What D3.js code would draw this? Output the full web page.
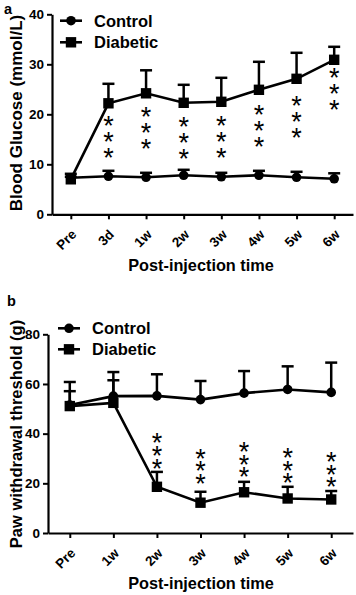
<!DOCTYPE html>
<html>
<head>
<meta charset="utf-8">
<script src="https://cdn.jsdelivr.net/npm/d3@7/dist/d3.min.js"></script>
<style>
  html, body { margin: 0; padding: 0; background: #fff; }
  svg { display: block; }
  text { font-family: "Liberation Sans", Arial, sans-serif; fill: #000; }
  text.stars { writing-mode: vertical-rl; text-orientation: upright; }
</style>
</head>
<body>
<svg id="chart" width="356" height="595"></svg>
<script>
// ---------- Panel a data: Blood glucose (mmol/L) ----------
const catsA = ["Pre", "3d", "1w", "2w", "3w", "4w", "5w", "6w"];
const controlA = [7.3, 7.6, 7.4, 7.8, 7.5, 7.8, 7.4, 7.1];
const controlErrA = [0.8, 1.1, 0.9, 1.1, 0.8, 0.9, 1.1, 1.1];
const diabeticA = [7.0, 22.2, 24.2, 22.3, 22.5, 24.9, 27.1, 30.9];
const diabeticErrA = [0.5, 3.9, 4.6, 3.6, 4.8, 5.6, 5.2, 2.6];
const starCatsA = ["3d", "1w", "2w", "3w", "4w", "5w", "6w"];
const starTopA = [18.7, 20.5, 18.5, 18.7, 20.9, 22.7, 28.3];
const yTicksA = [0, 10, 20, 30, 40];

// ---------- Panel b data: Paw withdrawal threshold (g) ----------
const catsB = ["Pre", "1w", "2w", "3w", "4w", "5w", "6w"];
const controlB = [51.5, 55.1, 55.2, 53.7, 56.3, 57.8, 56.6];
const controlErrB = [9.3, 9.7, 8.7, 7.5, 8.9, 9.3, 12.0];
const diabeticB = [51.1, 52.4, 18.6, 12.2, 16.4, 13.9, 13.5];
const diabeticErrB = [6.0, 9.1, 6.0, 4.4, 4.2, 4.7, 3.4];
const starCatsB = ["2w", "3w", "4w", "5w", "6w"];
const starTopB = [38.1, 32.0, 34.7, 32.3, 30.7];
const yTicksB = [0, 20, 40, 60, 80];

const seriesNames = ["Control", "Diabetic"];
const starLabel = "***";

const svg = d3.select("#chart");

// ink metrics of the asterisk glyph (horizontal), used to centre the stacked stars
function starMetrics(size) {
  const ctx = document.createElement("canvas").getContext("2d");
  ctx.font = `${size}px "Liberation Sans", Arial, sans-serif`;
  const m = ctx.measureText("*");
  const inkMid = (m.actualBoundingBoxAscent - m.actualBoundingBoxDescent) / 2;
  const asc = m.fontBoundingBoxAscent || size * 0.905;
  return { fromTop: asc - inkMid };
}

function drawPanel(cfg) {
  const g = svg.append("g");
  const x = d3.scalePoint().domain(cfg.cats).range(cfg.xRange).padding(0.5);
  const y = d3.scaleLinear().domain(cfg.yDomain).range(cfg.yRange);

  // panel letter
  g.append("text").attr("x", cfg.letterPos[0]).attr("y", cfg.letterPos[1])
    .attr("font-size", 14.5).attr("font-weight", "bold").text(cfg.letter);

  // y axis
  const ya = g.append("g").attr("transform", `translate(${cfg.xRange[0]},0)`)
    .call(d3.axisLeft(y).tickValues(cfg.yTicks).tickSize(5).tickSizeOuter(0).tickPadding(3));
  ya.select(".domain").attr("stroke-width", 2.2).attr("stroke", "#000");
  ya.selectAll(".tick line").attr("stroke-width", 2).attr("stroke", "#000");
  ya.selectAll(".tick text").attr("font-size", 13.5).attr("font-weight", "bold")
    .attr("font-family", "Liberation Sans, Arial, sans-serif").attr("fill", "#000");

  // x axis
  const xa = g.append("g").attr("transform", `translate(0,${cfg.yRange[0]})`)
    .call(d3.axisBottom(x).tickSize(5).tickSizeOuter(0));
  xa.select(".domain").attr("stroke-width", 2.2).attr("stroke", "#000");
  xa.selectAll(".tick line").attr("stroke-width", 2).attr("stroke", "#000");
  xa.selectAll(".tick text").attr("font-size", 13.5).attr("font-weight", "bold")
    .attr("font-family", "Liberation Sans, Arial, sans-serif").attr("fill", "#000")
    .attr("text-anchor", "end").attr("y", 0).attr("dy", 0)
    .attr("transform", "translate(6,21) rotate(-45)");

  // axis titles
  g.append("text").attr("font-size", cfg.yTitleSize).attr("font-weight", "bold")
    .attr("text-anchor", "middle")
    .attr("transform", `translate(${cfg.yTitlePos[0]},${cfg.yTitlePos[1]}) rotate(-90)`)
    .text(cfg.yTitle);
  g.append("text").attr("font-size", 16.3).attr("font-weight", "bold")
    .attr("text-anchor", "middle").attr("x", cfg.xTitlePos[0]).attr("y", cfg.xTitlePos[1])
    .text("Post-injection time");

  const line = d3.line().x((d, i) => x(cfg.cats[i])).y(d => y(d));

  const series = [
    { name: seriesNames[0], vals: cfg.control, err: cfg.controlErr, shape: "circle" },
    { name: seriesNames[1], vals: cfg.diabetic, err: cfg.diabeticErr, shape: "square" }
  ];

  series.forEach(s => {
    const eb = g.append("g");
    s.vals.forEach((v, i) => {
      const cx = x(cfg.cats[i]);
      eb.append("line").attr("x1", cx).attr("x2", cx).attr("y1", y(v)).attr("y2", y(v + s.err[i]))
        .attr("stroke", "#000").attr("stroke-width", 2.5);
      eb.append("line").attr("x1", cx - 6).attr("x2", cx + 6)
        .attr("y1", y(v + s.err[i])).attr("y2", y(v + s.err[i]))
        .attr("stroke", "#000").attr("stroke-width", 2.5);
    });
    g.append("path").datum(s.vals).attr("d", line).attr("fill", "none")
      .attr("stroke", "#000").attr("stroke-width", 2.6);
    s.vals.forEach((v, i) => {
      const cx = x(cfg.cats[i]);
      if (s.shape === "circle") {
        g.append("circle").attr("cx", cx).attr("cy", y(v)).attr("r", 4.8).attr("fill", "#000");
      } else {
        g.append("rect").attr("x", cx - 5.2).attr("y", y(v) - 5.2).attr("width", 10.4).attr("height", 10.4).attr("fill", "#000");
      }
    });
  });

  // significance stars: one vertical text per column
  const sm = starMetrics(cfg.starSize);
  cfg.starCats.forEach((c, i) => {
    const cx = x(c);
    const target = y(cfg.starTop[i]);   // centre of the top star
    const t = g.append("text").attr("class", "stars")
      .attr("font-size", cfg.starSize).attr("letter-spacing", 0)
      .attr("x", cx).attr("y", target).text(starLabel);
    const node = t.node();
    let p0, p1;
    try {
      p0 = node.getStartPositionOfChar(0);
      p1 = node.getStartPositionOfChar(1);
    } catch (e) { p0 = null; }
    if (p0 && p1 && Math.abs(p1.y - p0.y) > 1) {
      const natural = p1.y - p0.y;
      t.attr("letter-spacing", cfg.starGap - natural);
      const q0 = node.getStartPositionOfChar(0);
      // cell top of first glyph -> ink centre offset = sm.fromTop
      t.attr("y", target + (target - q0.y) - sm.fromTop);
    } else {
      t.attr("letter-spacing", cfg.starGap - cfg.starSize * 1.117)
        .attr("y", target - sm.fromTop);
    }
    const bb = node.getBBox();
    t.attr("x", cx + (cx - (bb.x + bb.width / 2)));
  });

  // legend
  series.forEach((s, i) => {
    const ly = cfg.legendPos[1] + i * cfg.legendGap;
    const lx = cfg.legendPos[0];
    g.append("line").attr("x1", lx).attr("x2", lx + 22).attr("y1", ly).attr("y2", ly)
      .attr("stroke", "#000").attr("stroke-width", 2.6);
    if (s.shape === "circle") {
      g.append("circle").attr("cx", lx + 11).attr("cy", ly).attr("r", 4.8).attr("fill", "#000");
    } else {
      g.append("rect").attr("x", lx + 11 - 5.2).attr("y", ly - 5.2).attr("width", 10.4).attr("height", 10.4).attr("fill", "#000");
    }
    g.append("text").attr("x", lx + 34).attr("y", ly + 6).attr("font-size", 16.5)
      .attr("font-weight", "bold").text(s.name);
  });
}

drawPanel({
  letter: "a", letterPos: [4, 13.5],
  cats: catsA, control: controlA, controlErr: controlErrA,
  diabetic: diabeticA, diabeticErr: diabeticErrA,
  starCats: starCatsA, starTop: starTopA, starGap: 16, starSize: 27,
  yDomain: [0, 40], yTicks: yTicksA,
  xRange: [52, 353], yRange: [214.3, 14.3],
  yTitle: "Blood Glucose (mmol/L)", yTitleSize: 17, yTitlePos: [22, 113],
  xTitlePos: [201, 271],
  legendPos: [60, 20.7], legendGap: 21.6
});

drawPanel({
  letter: "b", letterPos: [7, 306],
  cats: catsB, control: controlB, controlErr: controlErrB,
  diabetic: diabeticB, diabeticErr: diabeticErrB,
  starCats: starCatsB, starTop: starTopB, starGap: 12.8, starSize: 27,
  yDomain: [0, 80], yTicks: yTicksB,
  xRange: [48, 353], yRange: [533, 334.3],
  yTitle: "Paw withdrawal threshold (g)", yTitleSize: 16.5, yTitlePos: [22, 434],
  xTitlePos: [201, 589],
  legendPos: [58, 328.3], legendGap: 21
});
</script>
</body>
</html>
